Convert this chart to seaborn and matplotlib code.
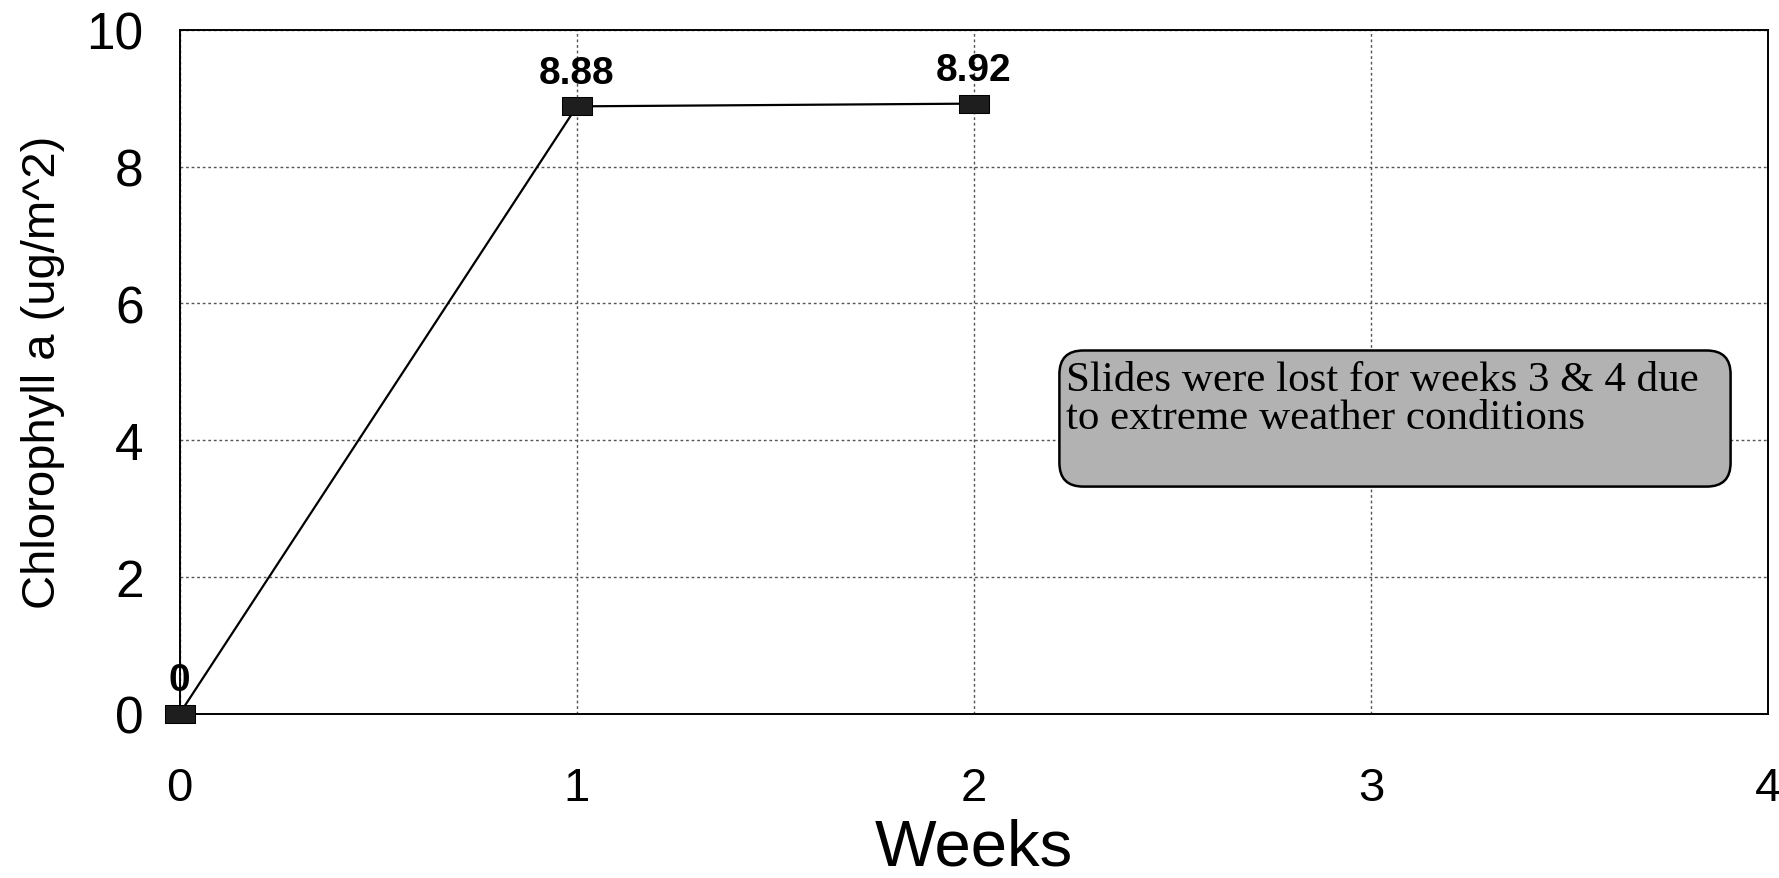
import matplotlib
matplotlib.use("Agg")
import matplotlib.pyplot as plt
from matplotlib.patches import FancyBboxPatch
import seaborn as sns
import pandas as pd

weeks = [0, 1, 2]
chlorophyll = [0.0, 8.88, 8.92]
point_labels = ["0", "8.88", "8.92"]
x_ticks = [0, 1, 2, 3, 4]
y_ticks = [0, 2, 4, 6, 8, 10]
note = "Slides were lost for weeks 3 & 4 due\nto extreme weather conditions"

# wide flat square marker, like the scanned original
rect_marker = [(-1, -0.62), (1, -0.62), (1, 0.62), (-1, 0.62), (-1, -0.62)]


def main():
    sns.set_style("white")
    plt.rcParams['font.family'] = ['Liberation Sans', 'DejaVu Sans']
    for k in ['text.color', 'axes.labelcolor', 'xtick.color', 'ytick.color']:
        plt.rcParams[k] = 'black'

    df = pd.DataFrame({"Weeks": weeks, "Chl": chlorophyll})

    fig = plt.figure(figsize=(17.79, 8.79), dpi=100)
    ax = fig.add_axes([0.101, 0.187, 0.893, 0.778])

    sns.lineplot(data=df, x="Weeks", y="Chl", ax=ax, color="black",
                 linewidth=1.6, marker=rect_marker, markersize=21,
                 markeredgecolor="black", markerfacecolor="#1e1e1e",
                 clip_on=False, zorder=5)

    for x, y, lab in zip(weeks, chlorophyll, point_labels):
        ax.annotate(lab, (x, y), xytext=(0, 11), textcoords="offset points",
                    ha="center", va="bottom", fontsize=28, fontweight="bold",
                    zorder=6)

    ax.set_xlim(0, 4)
    ax.set_ylim(0, 10)
    ax.set_xticks(x_ticks)
    ax.set_yticks(y_ticks)
    ax.tick_params(axis="y", labelsize=37, length=0, pad=26)
    ax.tick_params(axis="x", labelsize=34, length=0, pad=38)

    ax.grid(True, color="#555555", linestyle=(0, (2, 2)), linewidth=1.0)
    for s in ax.spines.values():
        s.set_color("black")
        s.set_linewidth(1.4)

    ax.set_xlabel("Weeks", fontsize=47)
    ax.xaxis.set_label_coords(0.5, -0.152)
    ax.set_ylabel("Chlorophyll a (ug/m^2)", fontsize=34)
    ax.yaxis.set_label_coords(-0.072, 0.5)

    # rounded grey note box (kept round despite the data aspect)
    box = FancyBboxPatch((2.215, 3.32), 1.69, 1.99,
                         boxstyle="round,pad=0,rounding_size=0.06",
                         mutation_aspect=5.8, facecolor="#b2b2b2",
                         edgecolor="black", linewidth=1.8, zorder=6)
    ax.add_patch(box)
    ax.text(2.232, 5.17, note, fontsize=31, family=["Liberation Serif"],
            ha="left", va="top", linespacing=1.0, zorder=7)

    plt.savefig("out.png", dpi=100)


if __name__ == '__main__':
    main()
